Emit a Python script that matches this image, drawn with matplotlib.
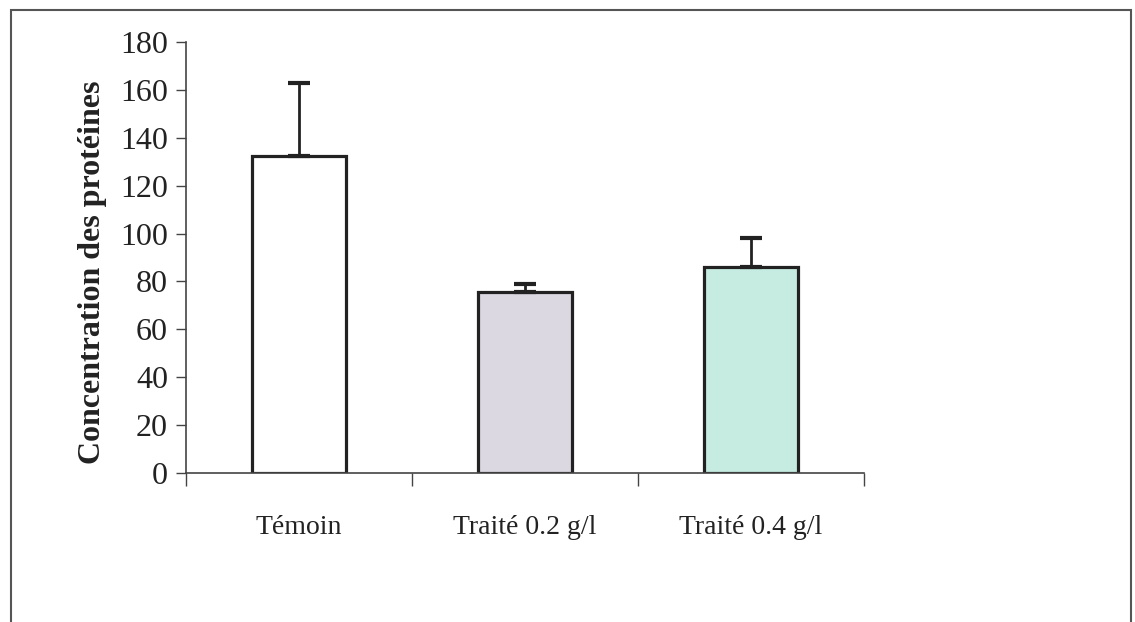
import matplotlib
matplotlib.use("Agg")
import matplotlib.pyplot as plt
from matplotlib.patches import Rectangle

categories = ["Témoin", "Traité 0.2 g/l", "Traité 0.4 g/l"]
means = [132.5, 75.5, 86]
errors = [30.5, 3.5, 12]
colors = ["#ffffff", "#dcd8e2", "#c6ece2"]
yticks = [0, 20, 40, 60, 80, 100, 120, 140, 160, 180]
ylabel = "Concentration des protéines"

plt.rcParams['font.family'] = ['Liberation Serif', 'DejaVu Serif']

fig = plt.figure(figsize=(11.35, 6.22), dpi=100)
fig.patch.set_facecolor("white")
ax = fig.add_axes([186/1135, 1-473/622, (864-186)/1135, (473-42)/622])

x = list(range(len(categories)))
ax.bar(x, means, width=0.415, color=colors, edgecolor="#222222", linewidth=2.3, zorder=2)
ax.errorbar(x, means, yerr=[[0]*len(errors), errors], fmt="none", ecolor="#222222",
            elinewidth=2.0, capsize=8, capthick=3, zorder=3)

ax.set_xlim(-0.5, len(categories)-0.5)
ax.set_ylim(0, 180)
ax.set_yticks(yticks)
ax.set_yticklabels([str(t) for t in yticks], fontsize=23, color="#222222")
ax.set_xticks([i - 0.5 for i in range(len(categories)+1)])
ax.set_xticklabels([])
ax.set_xticks(x, minor=True)
ax.set_xticklabels(categories, minor=True, fontsize=20, color="#222222")
ax.tick_params(axis="x", which="minor", length=0, pad=30)
ax.tick_params(axis="x", which="major", direction="out", length=9, width=1, color="#444444")
ax.tick_params(axis="y", direction="out", length=7, width=1, color="#444444", pad=6)
for s in ["top", "right"]:
    ax.spines[s].set_visible(False)
for s in ["left", "bottom"]:
    ax.spines[s].set_color("#444444")
    ax.spines[s].set_linewidth(1.2)

ax.set_ylabel(ylabel, fontsize=23, fontweight="bold", color="#222222")
ax.yaxis.set_label_coords(-0.117, 0.466)

fig.patches.append(Rectangle((11/1135, -0.05), (1131-11)/1135, 1.05-10/622,
                             transform=fig.transFigure, fill=False,
                             edgecolor="#555555", linewidth=1.5))

fig.savefig("out.png", dpi=100, facecolor="white")
